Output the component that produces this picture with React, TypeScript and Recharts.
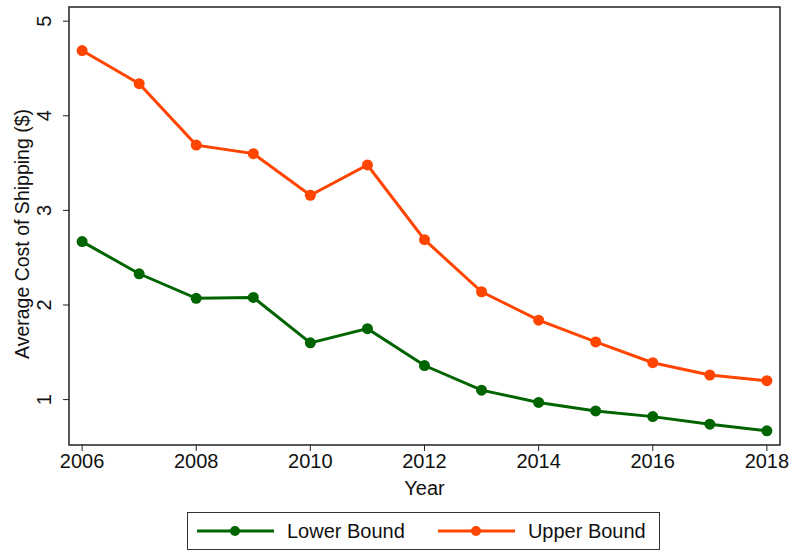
import React from "react";
import {
  LineChart,
  Line,
  XAxis,
  YAxis,
  ReferenceArea,
} from "recharts";

const years = [2006, 2007, 2008, 2009, 2010, 2011, 2012, 2013, 2014, 2015, 2016, 2017, 2018];
const lowerBound = [2.67, 2.33, 2.07, 2.08, 1.6, 1.75, 1.36, 1.1, 0.97, 0.88, 0.82, 0.74, 0.67];
const upperBound = [4.69, 4.34, 3.69, 3.6, 3.16, 3.48, 2.69, 2.14, 1.84, 1.61, 1.39, 1.26, 1.2];
const xTicks = [2006, 2008, 2010, 2012, 2014, 2016, 2018];
const yTicks = [1, 2, 3, 4, 5];

const series = [
  { key: "lower", name: "Lower Bound", color: "#006400" },
  { key: "upper", name: "Upper Bound", color: "#FF4500" },
];

const X_DOMAIN = [2005.77, 2018.23];
const Y_DOMAIN = [0.52, 5.15];

const FONT = "'Liberation Sans', Arial, sans-serif";

const data = years.map((year, i) => ({
  year,
  lower: lowerBound[i],
  upper: upperBound[i],
}));

// y tick labels are drawn sideways, like the original
const YTick = (props: any) => {
  const { x, y, payload } = props;
  const tx = x - 10;
  return (
    <text
      x={tx}
      y={y}
      transform={`rotate(-90 ${tx} ${y})`}
      textAnchor="middle"
      fontSize={20}
      fontFamily={FONT}
      fill="#111"
    >
      {payload.value}
    </text>
  );
};

const YLabel = (props: any) => {
  const { viewBox } = props;
  const cy = viewBox.y + viewBox.height / 2 + 8;
  return (
    <text
      x={29}
      y={cy}
      transform={`rotate(-90 29 ${cy})`}
      textAnchor="middle"
      fontSize={19.5}
      fontFamily={FONT}
      fill="#111"
    >
      Average Cost of Shipping ($)
    </text>
  );
};

function LegendBox() {
  return (
    <div
      style={{
        position: "absolute",
        left: 187,
        top: 512,
        width: 471,
        height: 36,
        border: "1px solid #333",
        display: "flex",
        alignItems: "center",
        fontFamily: FONT,
        fontSize: 20,
        color: "#111",
      }}
    >
      {series.map((s, i) => (
        <div
          key={s.key}
          style={{ display: "flex", alignItems: "center", marginLeft: i === 0 ? 9 : 33 }}
        >
          <svg width={77} height={14}>
            <line x1={0} y1={7} x2={77} y2={7} stroke={s.color} strokeWidth={3} />
            <circle cx={38} cy={7} r={5} fill={s.color} />
          </svg>
          <span style={{ marginLeft: 13 }}>{s.name}</span>
        </div>
      ))}
    </div>
  );
}

export default function App() {
  return (
    <div
      style={{
        position: "absolute",
        left: 0,
        top: 0,
        width: 793,
        height: 552,
        background: "#fff",
      }}
    >
      <LineChart
        width={793}
        height={500}
        data={data}
        margin={{ top: 7, right: 13, bottom: 0, left: 0 }}
      >
        <ReferenceArea
          x1={X_DOMAIN[0]}
          x2={X_DOMAIN[1]}
          y1={Y_DOMAIN[0]}
          y2={Y_DOMAIN[1]}
          fill="none"
          fillOpacity={0}
          stroke="#222"
          strokeWidth={1.5}
          strokeOpacity={1}
          ifOverflow="visible"
        />
        <XAxis
          dataKey="year"
          type="number"
          domain={X_DOMAIN}
          ticks={xTicks}
          height={55}
          axisLine={false}
          tickLine={{ stroke: "#222" }}
          tickSize={6}
          tick={{ fontSize: 20, fontFamily: FONT, fill: "#111" }}
          tickMargin={3}
          label={{
            value: "Year",
            position: "insideBottom",
            offset: 5,
            fontSize: 20,
            fontFamily: FONT,
            fill: "#111",
          }}
        />
        <YAxis
          type="number"
          domain={Y_DOMAIN}
          ticks={yTicks}
          width={69}
          axisLine={false}
          tickLine={{ stroke: "#222" }}
          tickSize={6}
          tick={<YTick />}
          label={<YLabel />}
        />
        {series.map((s) => (
          <Line
            key={s.key}
            dataKey={s.key}
            name={s.name}
            stroke={s.color}
            strokeWidth={3}
            dot={{ r: 5.5, fill: s.color, stroke: s.color, strokeWidth: 0 }}
            isAnimationActive={false}
          />
        ))}
      </LineChart>
      <LegendBox />
    </div>
  );
}
